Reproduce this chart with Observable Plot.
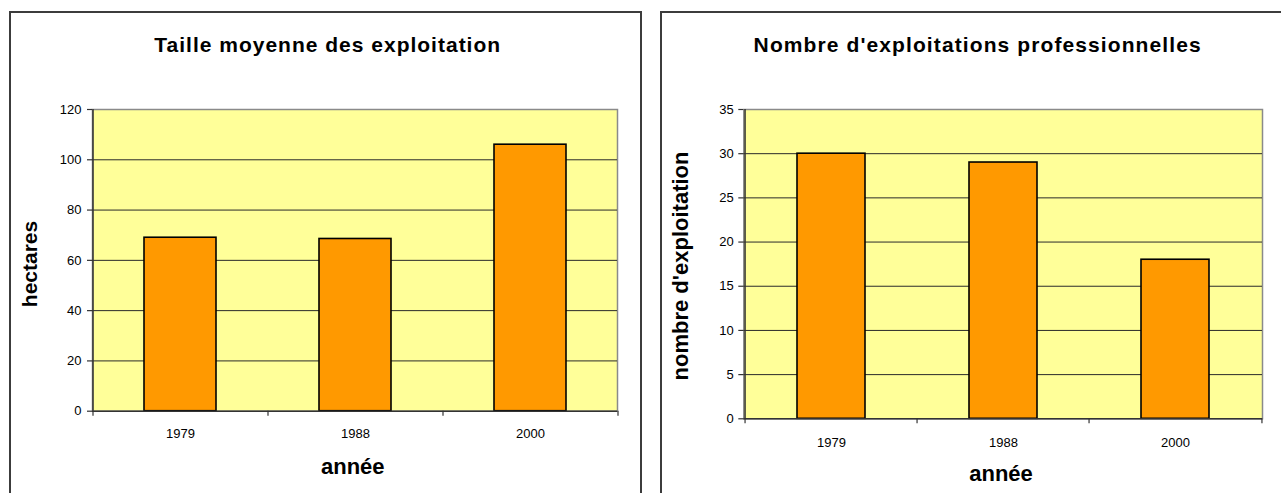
<!DOCTYPE html>
<html>
<head>
<meta charset="utf-8">
<script src="https://cdn.jsdelivr.net/npm/d3@7"></script>
<script src="https://cdn.jsdelivr.net/npm/@observablehq/plot@0.6"></script>
<style>
  html, body { margin: 0; padding: 0; background: #fff; }
  body { font-family: "Liberation Sans", Arial, sans-serif; color: #000; }
  #page { position: relative; width: 1281px; height: 493px; overflow: hidden; }
  .panel { position: absolute; border: 2px solid #3c3c3c; box-sizing: border-box; }
  .txt { position: absolute; font-weight: bold; white-space: nowrap; line-height: 1; }
  .htitle { transform: translateX(-50%); }
  .vtitle { transform: translate(-50%, -50%) rotate(-90deg); }
  .chart { position: absolute; top: 0; }
</style>
</head>
<body>
<div id="page">
  <div class="panel" style="left:9px; top:11px; width:633px; height:600px;"></div>
  <div class="panel" style="left:660px; top:11px; width:700px; height:600px;"></div>

  <div class="txt htitle" style="left:327.7px; top:33.9px; font-size:21px; letter-spacing:1px;">Taille moyenne des exploitation</div>
  <div class="txt htitle" style="left:977.7px; top:33.9px; font-size:21px; letter-spacing:1.1px;">Nombre d'exploitations professionnelles</div>

  <div class="txt vtitle" style="left:29.4px; top:264.4px; font-size:21px;">hectares</div>
  <div class="txt vtitle" style="left:681.4px; top:266px; font-size:22px;">nombre d'exploitation</div>

  <div class="txt htitle" style="left:352.8px; top:456.4px; font-size:22px;">année</div>
  <div class="txt htitle" style="left:1001px; top:463.4px; font-size:22px;">année</div>

  <div id="c1" class="chart" style="left:0px; width:640px;"></div>
  <div id="c2" class="chart" style="left:650px; width:631px;"></div>
</div>
<script>
// ---- data ----
const years = ["1979", "1988", "2000"];
const tailleMoyenne = [69, 68.5, 106];          // hectares
const nombreExploitations = [30, 29, 18];       // nombre d'exploitation
const tailleTicks = [0, 20, 40, 60, 80, 100, 120];
const nombreTicks = [0, 5, 10, 15, 20, 25, 30, 35];

function makeChart(cfg) {
  const height = 493;
  const data = years.map((year, i) => ({year, value: cfg.values[i]}));
  const yMax = cfg.ticks[cfg.ticks.length - 1];
  const step = (cfg.plotRight - cfg.plotLeft) / years.length;
  const axisColor = "#333";
  return Plot.plot({
    width: cfg.width,
    height,
    marginLeft: cfg.plotLeft - cfg.left,
    marginRight: cfg.left + cfg.width - cfg.plotRight,
    marginTop: cfg.plotTop,
    marginBottom: height - cfg.plotBottom,
    style: {background: "transparent", fontFamily: "'Liberation Sans', Arial, sans-serif", fontSize: "13px", color: "#000", overflow: "visible"},
    x: {type: "band", domain: years, paddingInner: cfg.pad, paddingOuter: cfg.pad / 2, label: null},
    y: {domain: [0, yMax], label: null},
    marks: [
      Plot.frame({fill: "#FFFF99", stroke: "#8a8a8a", strokeWidth: 1.5}),
      Plot.ruleY(cfg.ticks.filter(t => t > 0 && t < yMax), {stroke: "#2a2a2a", strokeWidth: 1}),
      Plot.barY(data, {x: "year", y: "value", fill: "#FF9900", stroke: "#000", strokeWidth: 1.6}),
      Plot.ruleY([0], {stroke: axisColor, strokeWidth: 1.5}),
      Plot.ruleX([years[0]], {dx: -step / 2, stroke: axisColor, strokeWidth: 1.5}),
      Plot.ruleX(years, {dx: -step / 2, y1: 0, y2: 0, insetBottom: -5, stroke: axisColor, strokeWidth: 1.2}),
      Plot.ruleX([years[years.length - 1]], {dx: step / 2, y1: 0, y2: 0, insetBottom: -5, stroke: axisColor, strokeWidth: 1.2}),
      Plot.axisY({ticks: cfg.ticks, tickSize: 5, tickPadding: cfg.yPad, stroke: axisColor, strokeWidth: 1.2, label: null, fontSize: 13, tickFormat: d => String(d)}),
      Plot.axisX({tickSize: 0, tickPadding: cfg.xPad, label: null, fontSize: 13})
    ]
  });
}

document.getElementById("c1").append(makeChart({
  values: tailleMoyenne, ticks: tailleTicks,
  left: 0, width: 640, plotLeft: 92, plotRight: 617, plotTop: 109, plotBottom: 410.7,
  pad: 0.589, xPad: 17.7, yPad: 6
}));
document.getElementById("c2").append(makeChart({
  values: nombreExploitations, ticks: nombreTicks,
  left: 650, width: 631, plotLeft: 743.3, plotRight: 1262, plotTop: 109, plotBottom: 418.3,
  pad: 0.604, xPad: 18.8, yPad: 5
}));
</script>
</body>
</html>
